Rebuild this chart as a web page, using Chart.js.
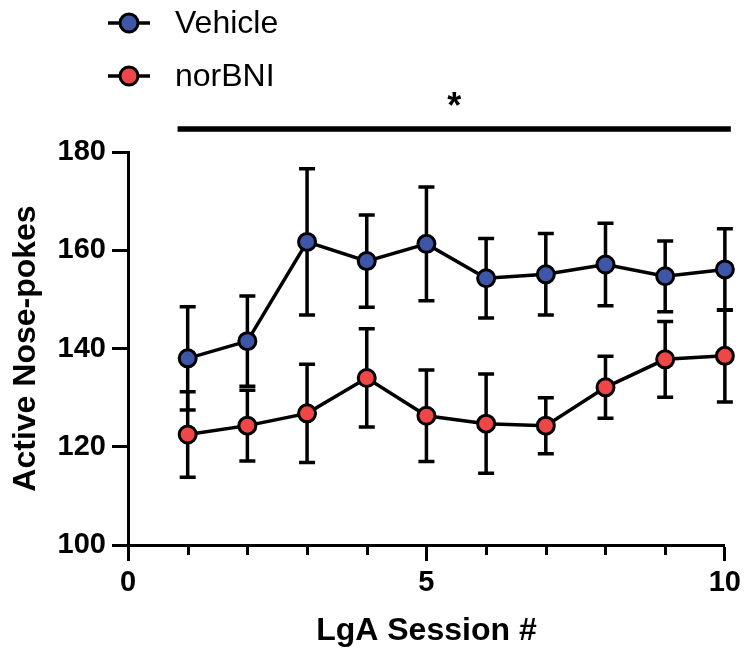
<!DOCTYPE html>
<html>
<head>
<meta charset="utf-8">
<script src="https://cdn.jsdelivr.net/npm/chart.js@4"></script>
<style>
    html, body { margin: 0; padding: 0; background: #fff; }
    #wrap { width: 746px; height: 656px; }
</style>
</head>
<body>
<div id="wrap"><canvas id="noseChart" width="746" height="656"></canvas></div>
<script>
// Data
const sessions = [1, 2, 3, 4, 5, 6, 7, 8, 9, 10];
const vehicleMean = [138.0, 141.5, 161.7, 157.8, 161.3, 154.3, 155.1, 157.1, 154.7, 156.1];
const vehicleSem = [10.5, 9.2, 14.9, 9.4, 11.6, 8.1, 8.3, 8.4, 7.2, 8.3];
const norbniMean = [122.5, 124.3, 126.8, 134.0, 126.3, 124.7, 124.3, 132.1, 137.8, 138.5];
const norbniSem = [8.7, 7.2, 10.0, 10.0, 9.3, 10.1, 5.7, 6.3, 7.7, 9.4];
const xTicks = [0, 5, 10];
const yTicks = [100, 120, 140, 160, 180];
// significance bar: from session 0.83 to 10.1 at 184.7, star above it
const sigRange = [0.83, 10.1];
const sigLevel = 184.7;
const sigStar = '*';

const BLUE = '#3E56A8';
const RED = '#EF4747';
const FONT = "'Liberation Sans', Arial, Helvetica, sans-serif";

Chart.defaults.font.family = FONT;
Chart.defaults.color = '#000';

function toPoints(means, sems) {
    return sessions.map((s, i) => ({ x: s, y: means[i], sem: sems[i] }));
}

// Error bars drawn under the lines/points
const errorBars = {
    id: 'errorBars',
    beforeDatasetsDraw(chart) {
        const ctx = chart.ctx;
        const yScale = chart.scales.y;
        ctx.save();
        ctx.strokeStyle = '#000';
        ctx.lineWidth = 3.5;
        ctx.lineCap = 'butt';
        chart.data.datasets.forEach((ds, di) => {
            const meta = chart.getDatasetMeta(di);
            meta.data.forEach((pt, i) => {
                const d = ds.data[i];
                const yTop = yScale.getPixelForValue(d.y + d.sem);
                const yBot = yScale.getPixelForValue(d.y - d.sem);
                const x = pt.x;
                ctx.beginPath();
                ctx.moveTo(x, yTop);
                ctx.lineTo(x, yBot);
                ctx.moveTo(x - 8, yTop);
                ctx.lineTo(x + 8, yTop);
                ctx.moveTo(x - 8, yBot);
                ctx.lineTo(x + 8, yBot);
                ctx.stroke();
            });
        });
        ctx.restore();
    }
};

// Minor x ticks, significance bar, and the legend
const extras = {
    id: 'extras',
    afterDraw(chart) {
        const ctx = chart.ctx;
        const xs = chart.scales.x;
        const ys = chart.scales.y;
        const axisY = chart.chartArea.bottom;
        ctx.save();

        // minor ticks at each session
        ctx.strokeStyle = '#000';
        ctx.lineWidth = 3;
        for (let i = 1; i < 10; i++) {
            if (i === 5) continue;
            const px = Math.round(xs.getPixelForValue(i)) + 0.5;
            ctx.beginPath();
            ctx.moveTo(px, axisY);
            ctx.lineTo(px, axisY + 10);
            ctx.stroke();
        }

        // significance bar
        const barY = ys.getPixelForValue(sigLevel);
        ctx.lineWidth = 5.5;
        ctx.beginPath();
        ctx.moveTo(xs.getPixelForValue(sigRange[0]), barY);
        ctx.lineTo(xs.getPixelForValue(sigRange[1]), barY);
        ctx.stroke();
        ctx.fillStyle = '#000';
        ctx.font = 'bold 36px ' + FONT;
        ctx.textAlign = 'center';
        ctx.textBaseline = 'middle';
        ctx.fillText(sigStar, xs.getPixelForValue((sigRange[0] + sigRange[1]) / 2), barY - 21);

        // legend, stacked at top-left
        ctx.textAlign = 'left';
        ctx.font = '32px ' + FONT;
        chart.data.datasets.forEach((ds, i) => {
            const cy = 23 + i * 53;
            ctx.strokeStyle = '#000';
            ctx.lineWidth = 3.5;
            ctx.beginPath();
            ctx.moveTo(108, cy);
            ctx.lineTo(150, cy);
            ctx.stroke();
            ctx.beginPath();
            ctx.arc(129, cy, 9, 0, Math.PI * 2);
            ctx.fillStyle = ds.pointBackgroundColor;
            ctx.fill();
            ctx.lineWidth = 3;
            ctx.stroke();
            ctx.fillStyle = '#000';
            ctx.fillText(ds.label, 175, cy + 1);
        });
        ctx.restore();
    }
};

const lineStyle = {
    borderColor: '#000',
    borderWidth: 3.5,
    pointRadius: 8.5,
    pointHoverRadius: 8.5,
    pointBorderColor: '#000',
    pointBorderWidth: 3,
    tension: 0,
    clip: false
};

new Chart(document.getElementById('noseChart'), {
    type: 'line',
    data: {
        datasets: [
            Object.assign({
                label: 'Vehicle',
                data: toPoints(vehicleMean, vehicleSem),
                backgroundColor: BLUE,
                pointBackgroundColor: BLUE
            }, lineStyle),
            Object.assign({
                label: 'norBNI',
                data: toPoints(norbniMean, norbniSem),
                backgroundColor: RED,
                pointBackgroundColor: RED
            }, lineStyle)
        ]
    },
    options: {
        responsive: false,
        animation: false,
        events: [],
        layout: { padding: { top: 152, right: 19, left: 0, bottom: 0 } },
        plugins: {
            legend: { display: false },
            tooltip: { enabled: false }
        },
        scales: {
            x: {
                type: 'linear',
                min: 0,
                max: 10,
                afterBuildTicks: axis => { axis.ticks = xTicks.map(v => ({ value: v })); },
                afterFit: axis => { axis.height = 111; },
                ticks: { font: { size: 29, weight: 'bold' }, padding: 5, maxRotation: 0 },
                grid: { drawOnChartArea: false, tickLength: 16, tickWidth: 3, tickColor: '#000' },
                border: { color: '#000', width: 3 },
                title: {
                    display: true,
                    text: 'LgA Session #',
                    font: { size: 32, weight: 'bold' },
                    padding: { top: 0, bottom: 6 }
                }
            },
            y: {
                min: 100,
                max: 180,
                afterBuildTicks: axis => { axis.ticks = yTicks.map(v => ({ value: v })); },
                afterFit: axis => { axis.width = 128; },
                ticks: { font: { size: 29, weight: 'bold' }, padding: 6 },
                grid: { drawOnChartArea: false, tickLength: 16, tickWidth: 3, tickColor: '#000' },
                border: { color: '#000', width: 3 },
                title: {
                    display: true,
                    text: 'Active Nose-pokes',
                    font: { size: 32, weight: 'bold' },
                    padding: { top: 7, bottom: 0 }
                }
            }
        }
    },
    plugins: [errorBars, extras]
});
</script>
</body>
</html>
